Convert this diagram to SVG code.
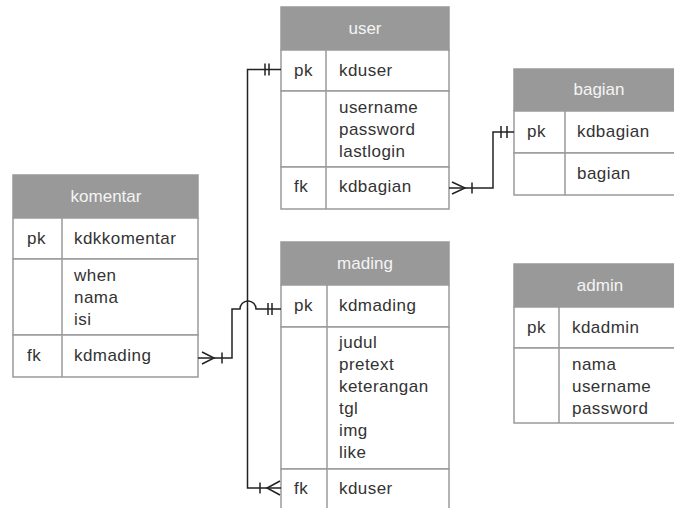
<svg xmlns="http://www.w3.org/2000/svg" width="674" height="508" viewBox="0 0 674 508">
  <style>
    .hdr { fill: #999999; stroke: #999999; stroke-width: 1.5; }
    .cell { fill: #ffffff; stroke: #9a9a9a; stroke-width: 1.5; }
    .div { stroke: #9a9a9a; stroke-width: 1.5; }
    .title { font-family: "Liberation Sans", Arial, sans-serif; font-size: 17px; fill: #f4f4f4; text-anchor: middle; }
    .txt { font-family: "Liberation Sans", Arial, sans-serif; font-size: 17px; letter-spacing: 0.45px; fill: #333333; }
    .conn { fill: none; stroke: #222222; stroke-width: 1.5; }
  </style>
  <rect width="674" height="508" fill="#ffffff"/>

  <!-- user -->
  <g id="user">
    <rect class="hdr" x="281" y="7" width="168" height="43"/>
    <rect class="cell" x="281" y="50" width="168" height="41"/>
    <rect class="cell" x="281" y="91" width="168" height="76"/>
    <rect class="cell" x="281" y="167" width="168" height="42"/>
    <line class="div" x1="326" y1="50" x2="326" y2="209"/>
    <text class="title" x="365" y="34">user</text>
    <text class="txt" x="294" y="76">pk</text>
    <text class="txt" x="339" y="76">kduser</text>
    <text class="txt" x="339" y="113">username</text>
    <text class="txt" x="339" y="135">password</text>
    <text class="txt" x="339" y="157">lastlogin</text>
    <text class="txt" x="294" y="192">fk</text>
    <text class="txt" x="339" y="192">kdbagian</text>
  </g>

  <!-- bagian -->
  <g id="bagian">
    <rect class="hdr" x="514" y="69" width="170" height="42"/>
    <rect class="cell" x="514" y="111" width="170" height="42"/>
    <rect class="cell" x="514" y="153" width="170" height="42"/>
    <line class="div" x1="565" y1="111" x2="565" y2="195"/>
    <text class="title" x="599" y="95">bagian</text>
    <text class="txt" x="527" y="137">pk</text>
    <text class="txt" x="577" y="137">kdbagian</text>
    <text class="txt" x="577" y="179">bagian</text>
  </g>

  <!-- komentar -->
  <g id="komentar">
    <rect class="hdr" x="13" y="175" width="185" height="43"/>
    <rect class="cell" x="13" y="218" width="185" height="41"/>
    <rect class="cell" x="13" y="259" width="185" height="76"/>
    <rect class="cell" x="13" y="335" width="185" height="42"/>
    <line class="div" x1="62" y1="218" x2="62" y2="377"/>
    <text class="title" x="106" y="202">komentar</text>
    <text class="txt" x="27" y="244">pk</text>
    <text class="txt" x="74" y="244">kdkkomentar</text>
    <text class="txt" x="74" y="281">when</text>
    <text class="txt" x="74" y="303">nama</text>
    <text class="txt" x="74" y="325">isi</text>
    <text class="txt" x="27" y="361">fk</text>
    <text class="txt" x="74" y="361">kdmading</text>
  </g>

  <!-- mading -->
  <g id="mading">
    <rect class="hdr" x="281" y="242" width="168" height="43"/>
    <rect class="cell" x="281" y="285" width="168" height="42"/>
    <rect class="cell" x="281" y="327" width="168" height="142"/>
    <rect class="cell" x="281" y="469" width="168" height="43"/>
    <line class="div" x1="327" y1="285" x2="327" y2="512"/>
    <text class="title" x="365" y="269">mading</text>
    <text class="txt" x="294" y="311">pk</text>
    <text class="txt" x="339" y="311">kdmading</text>
    <text class="txt" x="339" y="348">judul</text>
    <text class="txt" x="339" y="370">pretext</text>
    <text class="txt" x="339" y="392">keterangan</text>
    <text class="txt" x="339" y="414">tgl</text>
    <text class="txt" x="339" y="436">img</text>
    <text class="txt" x="339" y="458">like</text>
    <text class="txt" x="294" y="494">fk</text>
    <text class="txt" x="339" y="494">kduser</text>
  </g>

  <!-- admin -->
  <g id="admin">
    <rect class="hdr" x="514" y="264" width="170" height="43"/>
    <rect class="cell" x="514" y="307" width="170" height="41"/>
    <rect class="cell" x="514" y="348" width="170" height="75"/>
    <line class="div" x1="559" y1="307" x2="559" y2="423"/>
    <text class="title" x="600" y="291">admin</text>
    <text class="txt" x="527" y="333">pk</text>
    <text class="txt" x="572" y="333">kdadmin</text>
    <text class="txt" x="572" y="370">nama</text>
    <text class="txt" x="572" y="392">username</text>
    <text class="txt" x="572" y="414">password</text>
  </g>

  <!-- relationships -->
  <g id="connectors">
    <!-- user.kduser (1) to mading.kduser (many) -->
    <path class="conn" d="M281,69.5 H247.5 V488 H281"/>
    <path class="conn" d="M265,63.5 V75.5 M269,63.5 V75.5"/>
    <path class="conn" d="M260,482.5 V493.5 M280,481 L267,488 L280,495"/>

    <!-- bagian.kdbagian (1) to user.kdbagian (many) -->
    <path class="conn" d="M449,188 H493 V132 H514"/>
    <path class="conn" d="M501,126 V138 M507,126 V138"/>
    <path class="conn" d="M452,182 L465,188 L452,194 M472,182.5 V193.5"/>

    <!-- mading.kdmading (1) to komentar.kdmading (many) -->
    <path class="conn" d="M198,358 H232 V309 H240 A8,8 0 0 1 256,309 H281"/>
    <path class="conn" d="M268,303 V315 M272,303 V315"/>
    <path class="conn" d="M202,352 L214,358 L202,364 M222,352.5 V363.5"/>
  </g>
</svg>
